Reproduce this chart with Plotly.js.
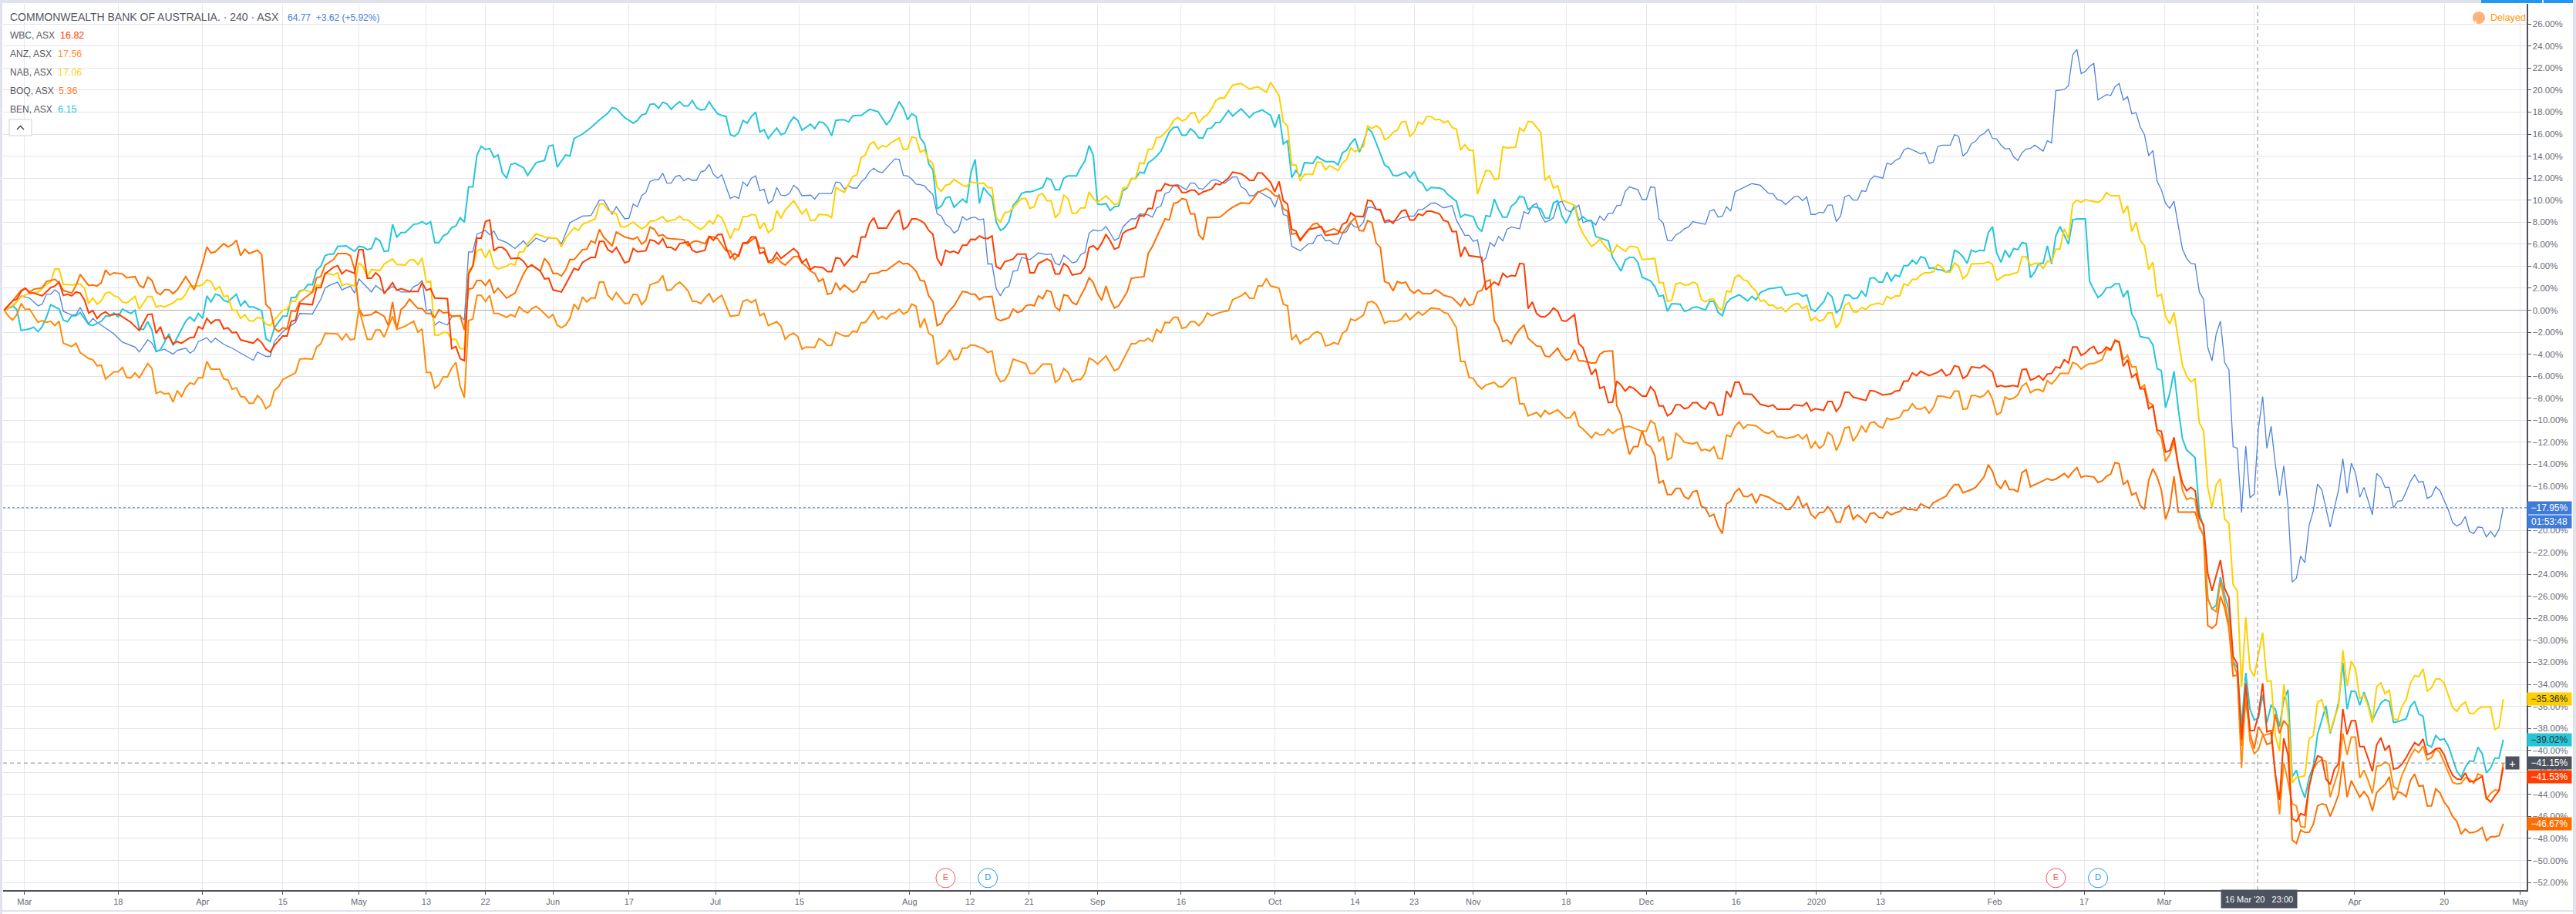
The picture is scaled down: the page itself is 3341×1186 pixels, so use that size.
<!DOCTYPE html>
<html><head><meta charset="utf-8">
<script src="https://cdn.plot.ly/plotly-3.0.1.min.js"></script>
<style>html,body{margin:0;padding:0;background:#fff;overflow:hidden}#c{width:3341px;height:1186px}</style>
</head><body><div id="c"></div>
<script>
// Each series: flat pairs of bar index, % change
const cbaPoints=[1,0,3,.3,5,1.3,7,1.1,9,.4,10,.55,11,1.45,12,1.45,13,1.85,14,1.55,15,-.1,17,-.45,18,-.4,19,.25,21,-1.25,22,-.75,23,-1.1,25,-1.65,27,-2.15,29,-2.9,32,-3.35,33,-3.8,35,-2.7,36,-3,37,-3.75,39,-3.55,41,-4,42,-3.65,44,-3.45,45,-3.9,46,-3.65,47,-2.85,49,-2.5,50,-2.95,51,-2.55,53,-3.1,55,-3.45,57,-3.9,60,-4.55,61,-3.8,63,-4.2,64,-4.2,65,-2.85,67,-1.95,70,-1.1,71,-.3,74,-.35,76,1,77,2,78,2.25,80,2.55,81,1.85,83,2.2,84,1.55,85,2.85,88,1.65,89,2.25,91,1.65,93,2.15,95,1.65,97,1.65,98,2.15,99,2.3,100,2.7,101,-.05,102,.05,103,-1.35,104,-1.05,106,-1.35,107,-.6,109,-.5,110,-.9,111,5.3,112,5.3,113,6.9,115,7.25,116,6.85,117,7.2,118,6.45,120,6.15,122,5.6,124,6.3,125,5.8,127,6.55,129,6.2,130,6.6,132,6.5,133,6,135,7.95,138,8.55,140,8.6,142,10,143,10,145,8.7,
146,9.4,148,8.3,149,8.35,150,9.65,151,9.4,152,10.4,153,10.7,154,11.7,155,11.85,156,11.85,157,12.45,158,11.55,159,11.55,160,12.15,161,12.25,162,11.75,163,12,164,11.8,165,11.8,166,12.55,167,12.7,168,13.25,169,12.35,170,12,171,12.3,172,11.2,173,10.15,174,10.35,175,10.15,176,11.65,177,11.3,178,12,179,12.2,180,10.85,181,11,182,9.7,183,9.95,184,11.15,185,10.45,186,10.4,187,10.6,188,11.35,189,11.05,190,10.4,192,10.45,193,10.1,194,10.6,197,10.6,198,11.65,199,11.6,200,11,201,11.3,202,11.1,203,11.1,204,11.65,205,12,206,12.6,207,12.9,208,12.6,209,12.5,210,12.95,211,13.35,212,13.75,213,13.7,214,12.25,215,12.2,216,11.9,217,11.45,218,11.4,219,11.3,220,10.85,221,10.5,222,8.75,223,8.55,224,7.8,225,7.55,226,7,227,7.3,228,8.5,229,8.2,230,8.4,231,8.45,232,8.2,233,8.3,234,4.2,235,4.2,236,1.95,237,1.3,238,2,239,2.15,240,3.55,241,3.6,242,4.8,243,4.7,244,4.6,246,5.2,248,5.05,249,5.1,250,4.25,251,4.1,252,5,253,4.7,254,4.3,255,4.4,256,5.05,257,5.25,258,7,259,7.3,260,7.2,261,7.25,262,7.6,263,7,264,6.35,265,6.55,266,7.55,267,7.95,268,8.3,269,8.3,270,8.75,272,8.65,273,8.45,274,9.3,275,9.45,276,10.6,277,10.75,278,11.35,279,11.4,281,10.95,282,11.55,283,11.55,284,11.05,285,11,287,11.8,288,11.85,290,11.5,292,12.1,
293,12.1,294,11.2,295,11,296,10.4,297,10.4,298,10.8,301,10.15,302,9.35,303,10.55,304,8.7,305,8.55,306,5.8,308,5.4,310,6.05,311,6.05,312,6.75,313,6.85,314,6.3,315,6.35,316,6.05,317,6,318,6.95,319,7.15,320,7.9,321,7.55,322,7.55,323,8,324,9.35,325,9.35,327,9,328,7.95,330,8.1,331,8.15,332,8.4,334,8.55,335,8.55,336,9.15,337,9.15,339,9.7,340,9.75,341,9.5,342,9.3,344,9.5,345,8.2,347,6.8,348,6.8,349,6.25,350,6.4,351,4.35,352,4.75,353,6.15,354,5.8,355,6.7,356,6.3,357,7.35,358,7.55,360,7.4,361,8.95,362,8.75,363,9.5,364,9.7,365,8.7,366,8,367,8.15,368,8.4,369,9.75,370,9.9,371,9.1,372,8.95,374,9.55,375,7.95,376,8.1,377,8.1,378,7.75,379,8.55,380,8.15,381,8.8,382,8.8,383,9.5,384,9.55,385,10.8,386,11.2,388,10.95,389,10.05,390,10.05,391,11.2,392,11.15,393,8.3,394,7.9,395,6.35,396,6.3,397,6.85,398,7.05,399,7.4,400,7.55,401,8.05,402,7.95,404,7.8,405,9,406,9.15,407,8.45,408,8.55,409,9.4,410,9,411,10.75,413,11.1,415,11.5,417,11.35,419,10.6,420,10.6,421,10.05,422,9.95,423,9.6,425,10.3,426,10.35,427,9.95,428,10.3,429,8.7,430,8.7,431,8.9,432,8.85,433,9.55,434,9.55,435,8.05,436,8.55,437,10.3,438,10.45,
439,10,440,10,441,10.85,442,10.8,443,11.85,444,12.2,446,12,447,13.35,448,13.25,449,13.6,450,13.8,451,14.55,452,14.75,453,14.6,454,14.4,455,14.2,456,14.35,457,13.35,458,13.45,459,14.85,460,15,462,15,463,15.95,464,15.8,465,14,466,14.35,467,15.15,468,15.35,469,15.85,470,16.05,471,16.45,472,15.6,473,15.55,474,15,475,14.65,476,14.7,477,13.95,478,13.6,479,14.3,480,14.65,481,14.7,482,15,483,14.75,484,14.45,485,15.4,486,15.2,487,19.95,489,20.05,490,20.4,491,23.2,492,23.7,493,21.5,494,21.7,495,22.15,496,22.45,497,19.1,499,19.6,500,19.5,501,20.3,502,20.6,503,19.1,504,19.4,505,17.85,506,17.95,507,16.65,508,15.95,509,14.05,510,14.5,511,11.7,512,10.95,513,9.7,514,9.25,515,9.9,516,7.65,517,5.55,518,4.7,519,4.25,520,4.2,521,1.65,522,1,523,-3.4,524,-4.6,525,-2.15,526,-1,527,-4.75,528,-5.4,529,-12.4,530,-12.55,531,-18.4,532,-12.35,533,-17.05,534,-16.7,535,-10.75,536,-7.85,537,-12.55,538,-10.55,539,-14,540,-16.85,541,-14.15,542,-17.8,543,-24.7,544,-24.35,545,-22.35,546,-22.95,547,-19.55,548,-18.25,549,-15.8,550,-16.3,551,-18.1,552,-19.7,553,-17.95,554,-16.3,555,-13.5,556,-16.65,557,-13.9,558,-14.8,559,-17,560,-16.1,561,-17.3,562,-18.6,563,-14.85,564,-15.2,565,-16.1,566,-16.1,567,-17.95,568,-17.35,569,-17.3,570,-16.5,571,-15.55,572,-14.95,573,-15.65,574,-15.55,575,-17.1,576,-16.9,577,-16.05,578,-16.4,579,-17.3,580,-18.15,581,-19.3,582,-19.6,583,-19.4,584,-18.75,585,-20.1,586,-20.3,587,-19.7,588,-19.75,589,-20.6,590,-20.1,591,-20.6,592,-19.9,593,-17.95];
const wbcPoints=[1,0,2,.4,3,.85,4,1,5,1.7,6,2,7,1.55,8,1.55,10,1.3,12,2.05,13,2.2,14,2.55,15,1.35,16,1.45,17,1.3,18,1.65,19,1.55,20,.95,21,-.25,22,-.05,23,-.75,24,-.35,25,-.15,26,-.45,28,-.35,30,-.85,31,-1.1,33,-1.85,35,-.4,36,-.35,37,-2.1,38,-1.5,39,-2.6,40,-2.4,41,-3.05,42,-2.85,43,-3,45,-2.5,46,-2.45,47,-1.5,48,-1.7,49,-.75,50,-1.2,51,-.9,52,-.9,53,-1.7,54,-1.6,55,-2.05,56,-2,57,-2.7,60,-3,61,-2.6,62,-2.95,63,-3.55,64,-3.8,65,-3.2,67,-2.35,68,-2.35,69,-1,70,-.9,71,.6,74,.5,75,2.05,76,2.05,77,3.3,79,3.9,80,4.05,81,3.3,82,3.65,84,3.35,85,5.5,86,5.5,87,2.9,88,2.9,89,3.4,90,3.05,91,1.5,93,2.5,94,1.8,95,1.95,97,1.7,99,1.7,100,2.5,101,1.8,102,1.95,103,1.1,106,1.05,107,-3.5,108,-3.3,109,-4.4,110,-4.6,111,3.3,112,4,113,6.55,114,6.55,115,8.05,116,8.2,117,5.4,118,5.7,119,5.7,120,5.4,121,4.7,123,4.75,124,4.45,125,3.9,126,4.1,128,3.55,129,2.85,130,2.9,131,1.85,133,1.65,134,2.35,136,3.8,137,3.65,138,4.35,140,4.8,141,4.8,142,6.25,143,6.25,144,5.5,145,5.25,146,5.7,
148,4.3,149,4.45,150,5.6,151,5.3,153,5.4,154,6.4,155,6.3,156,6,157,6.5,158,5.7,159,5.7,160,5.45,161,6.05,163,6.2,164,5.45,165,5.25,167,5.45,168,6.7,169,6.35,170,6.85,171,6.9,172,5.7,173,4.75,174,5.15,175,4.9,176,6.1,177,6.15,178,6.65,179,6.65,180,5.15,181,5.3,182,4.4,183,4.6,184,5.25,185,4.7,188,5.6,189,5.25,190,4.3,191,4.65,192,3.7,193,3.95,195,3.85,196,3.5,197,3.5,198,4.75,199,4.7,200,4.05,202,4.95,203,4.8,204,6.65,205,6.65,206,7.9,207,8.4,208,7.45,210,7.45,212,8.75,213,9.1,214,7.35,215,7.6,216,8.3,217,8.3,218,8.15,219,7.9,220,7.25,221,6.9,222,4.7,223,4.05,224,5.45,225,5.25,226,5.35,227,5.15,228,5.9,229,5.9,230,6.45,231,6.4,232,6.75,233,6.55,234,6.5,235,6.75,236,3.95,237,3.75,238,4.4,240,4.65,241,5.1,243,5.1,244,3.4,245,3.4,246,4.25,248,4.65,249,4.45,250,3.3,251,3.3,252,4.25,253,3.95,254,3.2,256,3.35,257,3.9,258,5.7,259,5.85,260,5.5,261,6.1,262,6.9,263,6.3,264,5.55,265,5.7,266,7,267,7.25,269,7.5,270,8.6,271,8.55,272,9.25,273,9.25,274,10.85,275,10.85,276,11.5,277,11.35,279,11.3,280,10.7,281,10.7,282,10.9,283,10.9,284,10.5,285,10.75,287,11,288,11.5,289,11.4,291,12,292,12.55,
294,12.4,295,12.15,296,11.8,297,11.8,298,12.5,299,12.45,301,11.6,302,10.75,303,11.7,304,9.95,305,9.65,306,7.35,307,7.2,308,6.4,310,7.35,311,7.4,313,7.6,314,6.8,317,6.95,318,7.8,319,8,320,8.85,321,8.55,323,8.5,324,10,325,9.9,326,9.15,327,9.15,328,8.05,329,8.2,330,7.9,332,9,333,9.1,334,8.2,335,8.2,336,8.75,337,8.6,338,9,339,9,341,8.75,342,8.15,343,8.05,344,7.15,345,7.15,346,4.85,347,5.75,348,4.95,351,4.8,352,1.85,354,2.55,355,2.3,356,3.35,357,3,358,3.15,359,3.1,360,4.25,361,4.2,362,.15,363,.75,364,-.3,365,-.6,366,-.6,367,-.3,368,.2,369,-.1,370,-.95,371,-1,373,-.4,374,-3.05,375,-3.4,377,-5.85,378,-5.35,379,-7.1,380,-6.95,381,-8.4,382,-8.35,383,-6.45,384,-6.8,385,-7.35,386,-6.95,387,-7.1,389,-7.8,390,-7.8,391,-6.95,392,-7.4,393,-8.7,394,-8.7,395,-9.6,396,-9.35,397,-8.6,398,-8.6,399,-8.95,400,-8.85,401,-8.4,402,-8.4,403,-8.8,404,-9,405,-8.35,406,-8.5,407,-9.55,408,-9.5,409,-7.35,410,-7.9,411,-6.55,412,-6.55,413,-7.6,415,-7.65,417,-8.55,419,-8.75,420,-8.6,421,-9,424,-9,425,-8.6,427,-8.7,428,-8.4,429,-9.15,430,-8.95,432,-9.1,433,-8.3,434,-8.3,435,-9.2,436,-8.7,437,-7.45,438,-7.45,
439,-7.9,440,-8,442,-8.2,443,-7.3,444,-7.35,446,-7.7,448,-7.6,449,-7.35,450,-7.3,451,-6.45,452,-6.45,453,-5.7,454,-5.95,455,-5.55,457,-5.95,459,-5.65,460,-5.4,461,-5.95,462,-5.8,463,-5.05,464,-5.15,465,-6.2,466,-5.95,467,-5.15,469,-5.25,470,-5,472,-5.6,473,-6.95,474,-6.85,475,-6.95,477,-6.85,478,-6.95,479,-5.4,480,-5.35,481,-6.35,482,-6.2,483,-5.95,484,-6.35,485,-5.8,486,-5.75,487,-5.15,488,-5.25,489,-4.5,490,-4.8,491,-3.35,492,-3.35,493,-4.1,494,-3.9,495,-3.5,496,-3.3,497,-3.95,498,-3.8,499,-3.35,500,-3.6,501,-2.8,502,-2.9,503,-5.1,504,-4.5,505,-6.1,506,-5.8,507,-7.15,508,-7.15,509,-8.95,510,-8.7,511,-10.9,512,-11,513,-12.9,514,-12.75,515,-11.55,516,-14.1,517,-15.7,518,-16.4,519,-16.1,520,-16.4,521,-18.9,522,-19.5,523,-23.9,524,-25.5,525,-24,526,-22.7,527,-25.3,528,-26.1,529,-31.45,530,-32.15,531,-39,532,-33.9,533,-38.2,534,-38.2,535,-36.8,536,-33.9,537,-38.3,538,-38.2,539,-42.15,540,-44.5,541,-38.9,542,-40.4,543,-46.2,544,-46.45,545,-45.75,546,-45.9,547,-43.3,548,-41.6,549,-40.5,550,-40.65,551,-42.6,552,-43.1,553,-41.7,554,-41.2,555,-36.25,556,-38.55,557,-37.3,558,-37.3,559,-39.65,560,-39.65,561,-40.75,562,-41.9,563,-39.5,564,-38.85,565,-40,566,-39.55,567,-41.7,568,-41.6,569,-41.25,570,-40.65,571,-39.95,572,-39.3,573,-39.55,574,-38.95,575,-40.4,576,-40.2,577,-39.85,578,-39.8,579,-40.4,580,-41.45,581,-42.25,582,-42.6,583,-42.65,584,-42.05,585,-42.85,586,-42.8,587,-42.6,588,-42.35,589,-44.35,590,-44.7,591,-44.15,592,-43.65,593,-41.53];
const anzPoints=[1,0,2,-.55,3,-.9,4,-.4,5,.6,6,.05,7,.1,9,-1.1,10,-.95,11,-1.1,12,-1,13,-1.4,14,-1,15,-3,16,-3.15,17,-3.3,18,-3,19,-3.85,21,-4.4,22,-4.5,23,-5.05,24,-5,25,-6.25,26,-5.9,27,-5.6,28,-5.6,29,-5.2,30,-6.1,31,-6.15,32,-5.7,33,-6.15,35,-4.85,36,-5.3,37,-7.55,38,-7.4,39,-7.6,40,-7.55,41,-8.35,42,-7.3,43,-7.85,44,-7.05,45,-6.6,46,-6.75,47,-6.15,48,-6.15,49,-4.65,50,-5.35,52,-5.35,53,-6.25,54,-6.35,55,-7.2,56,-7.05,57,-7.85,58,-7.9,59,-8.45,60,-8.45,61,-7.75,62,-8.15,63,-8.95,64,-8.65,65,-7.3,66,-6.95,67,-6.3,70,-5.7,71,-4.45,72,-4.4,74,-4.45,75,-3.35,76,-3.05,77,-2.1,80,-2.15,81,-2.7,82,-2.15,83,-2.7,84,-2.6,85,.15,87,-2.65,88,-2.65,89,-1.8,90,-1.8,91,-2.45,93,-.55,94,-1.75,96,-1.45,98,-1,99,-2,100,-1.7,101,-5.65,102,-5.65,103,-7.1,104,-6.8,105,-6.05,106,-6.05,107,-5.25,108,-4.75,109,-6.9,110,-7.95,111,-.95,112,-.8,113,1.35,114,1.35,115,.8,116,1.35,117,-.3,118,-.3,120,-.65,121,-.4,122,-.6,123,.3,124,-.05,125,-.25,126,.15,127,.35,128,.05,130,-.7,131,-.4,132,-1.35,133,-1.6,134,-1.35,135,-.75,136,.55,137,.05,138,1.2,139,.75,140,1.1,141,1.1,142,2.55,143,2.55,144,1.35,145,.95,146,1.6,
148,.6,149,.65,150,1.45,151,1.4,152,.5,153,.95,154,2.3,155,2.45,156,2.6,157,3.15,158,1.8,159,1.85,160,2.3,161,2.55,162,2.2,163,1.75,164,.8,165,.8,166,.6,167,1.1,168,1.5,169,.75,170,1.1,171,1.35,172,.4,173,-.55,175,-.45,176,.8,177,.95,178,.7,179,.95,180,-.5,181,-.3,182,-1.4,184,-1.05,185,-1.45,186,-2.65,187,-2.25,188,-2.1,189,-2.4,190,-3.55,191,-3.35,193,-3.4,194,-2.6,195,-2.8,196,-3.2,197,-3.2,198,-2,200,-2.35,201,-2.35,202,-1.9,203,-2,204,-1.15,205,-1.1,207,-.05,208,-.8,209,-.55,210,-.8,211,-.35,212,-.25,213,.1,214,-.35,215,-.15,216,.55,217,.35,218,-1.6,219,-.75,220,-2.1,221,-2.35,222,-4.95,224,-4.25,225,-3.6,226,-4.5,227,-4.4,228,-3.45,229,-3.45,230,-3.15,231,-3.2,233,-3.5,234,-3.85,235,-3.7,236,-5.8,237,-6.5,238,-6.35,239,-5.7,240,-4.45,243,-4.85,244,-5.75,245,-5.75,247,-4.9,249,-4.9,250,-6.55,251,-6.25,252,-5.3,253,-5.65,254,-6.5,255,-6.3,256,-6.3,257,-5.75,258,-4.35,259,-4.55,260,-4.9,262,-4.15,263,-4.85,264,-5.5,265,-5.3,267,-3.8,268,-3.05,269,-3.05,270,-2.75,271,-2.8,272,-2.55,273,-2.85,274,-1.75,275,-2.05,276,-1.1,277,-1.15,278,-.65,279,-.65,280,-1.65,281,-1.55,282,-1.05,283,-1.05,284,-1.4,285,-1,286,-.25,287,-.5,289,-.2,291,-.05,292,.95,
294,1.3,295,1.6,296,1.1,297,1.05,298,2.2,299,2.2,300,2.85,301,2.2,303,2,304,.55,305,.4,306,-2.7,307,-2.25,308,-3.05,309,-2.7,310,-2.6,311,-2.15,312,-1.95,313,-2.15,314,-3.25,315,-3.15,316,-2.95,317,-3.1,318,-2.1,319,-1.85,320,-.8,321,-.95,323,-.45,324,.7,325,.8,326,.55,327,-.15,328,-1.2,329,-1,331,-1,332,-.8,333,-.3,334,-.85,336,-.15,337,-.45,339,.2,341,.1,342,-.2,343,-.3,344,-.95,345,-1.6,346,-4.65,347,-4.65,348,-6.1,349,-6.2,350,-6.8,351,-7.15,352,-6.8,354,-6.55,355,-6.95,356,-6.95,358,-6.15,359,-6.15,360,-8.5,361,-8.5,362,-9.6,364,-9.3,365,-9.7,366,-9.1,367,-9.45,369,-9.05,371,-9.8,372,-9.75,373,-9.2,374,-10.5,375,-10.8,377,-11.6,378,-11.1,379,-11.35,380,-11.3,381,-10.8,382,-11.2,383,-10.9,385,-10.6,386,-10.55,389,-11,390,-11,391,-10.05,392,-10.3,393,-11.95,394,-11.5,395,-13.6,396,-13.4,397,-11.2,398,-11.5,399,-12,401,-12.15,402,-12,403,-12.75,404,-12.65,405,-12.8,406,-12.4,407,-13.45,408,-13.5,409,-11.35,410,-11.5,411,-10.55,412,-10.15,413,-10.75,414,-10.4,416,-10.5,418,-11.1,419,-11.2,420,-10.95,421,-11.5,422,-11.5,423,-11.65,425,-11.5,426,-11.3,427,-11.7,428,-11.3,429,-12.55,430,-11.95,431,-12.55,432,-12.25,433,-11.1,434,-11.4,435,-12.75,436,-11.95,437,-10.7,438,-10.6,
439,-11.9,440,-11.35,441,-10.5,442,-11.1,443,-10.25,444,-10.15,445,-10.55,446,-10.7,447,-9.8,448,-9.95,450,-9.75,451,-9.1,452,-9.1,453,-8.5,454,-8.95,455,-9,456,-8.8,457,-9.35,458,-8.85,459,-7.8,460,-7.8,462,-8,463,-7.35,464,-7.35,465,-9,466,-8.95,467,-7.75,468,-7.75,469,-7.9,470,-7.75,471,-7.3,472,-8.1,473,-9.5,474,-9.3,475,-7.9,476,-8.1,477,-8,478,-7.7,479,-6.9,480,-6.6,481,-7.5,482,-7.25,483,-7.2,484,-7.4,485,-6.4,486,-6.7,487,-6.3,488,-5.75,490,-5.75,491,-4.75,492,-4.9,493,-5.35,494,-5.05,495,-4.85,496,-4.85,498,-4.5,499,-3.55,500,-3.65,501,-2.7,502,-2.85,503,-4.5,504,-4.1,505,-5.15,506,-5.15,507,-7.1,508,-6.8,509,-8.4,510,-8.6,511,-11.05,512,-11.6,513,-13.75,514,-13.1,515,-11.95,516,-14.25,517,-16.35,518,-17.2,519,-17.05,520,-17.2,521,-19.8,522,-20.4,523,-26.2,524,-27.15,525,-27.4,526,-24.6,527,-26.55,528,-28.4,529,-32.05,530,-33.1,531,-41.6,532,-34.5,533,-39.15,534,-40.3,535,-39.95,536,-38.65,537,-38.55,538,-38.45,539,-42.2,540,-45.8,541,-41.1,542,-42.85,543,-44.85,544,-45.05,545,-46.9,546,-47,547,-43.3,548,-41.7,549,-41.1,550,-40.85,551,-41,552,-44.25,553,-43,554,-41.8,555,-38.45,556,-40.4,557,-38.8,558,-38.8,559,-42.5,560,-41.8,561,-42.75,562,-43.9,563,-41.45,564,-41.35,565,-41.05,566,-41.25,567,-43.3,568,-43.55,569,-42.25,570,-41.45,571,-40.55,572,-39.9,573,-40.2,574,-39.6,575,-40.85,576,-40.65,577,-39.85,578,-40.2,579,-41.1,580,-41.9,581,-42.9,582,-43.05,583,-43,584,-42.5,585,-42.6,586,-43,587,-42.15,588,-42.3,589,-44.45,590,-43.9,591,-43.6,592,-43.65,593,-41.15];
const nabPoints=[1,0,3,.4,5,1.2,7,1.55,9,1.65,11,2.35,12,2.55,13,3.75,14,3.75,15,2.35,17,2.3,19,2.4,20,2,21,.6,22,1.1,23,.55,24,.85,25,1.55,26,1.65,27,1.3,28,1.2,29,.75,30,.65,32,1.25,33,.1,35,1.25,36,1.25,37,.3,38,.4,39,.3,41,.65,42,1,43,1,44,1.45,45,2.2,47,2.2,48,2.3,49,2.75,50,2.6,51,1.85,52,2.15,53,1.25,54,1.3,55,0,56,0,57,-.75,58,-.4,59,-.95,60,-1,61,-.65,62,-.75,63,-1.25,64,-1.4,65,-.9,67,0,68,.05,69,.8,70,.8,71,1.65,72,1.85,74,1.6,75,2.25,76,2.25,77,3.4,79,3.2,80,3.4,81,2.25,82,2.4,84,2.2,85,4.3,86,3.95,87,3,88,3.7,90,3.6,91,4.2,93,4.65,94,4.15,96,4.1,97,4.55,98,4.6,99,4.15,100,4.75,101,2.55,102,2.65,103,-2.25,104,-2.25,105,-2,106,-2.05,107,-2.65,108,-2.65,109,-3.5,110,-3.5,111,3.65,112,4,113,5.4,114,5.55,115,4.75,116,5.5,117,4,118,3.75,120,4,121,4.25,122,4.1,123,5.3,124,5.3,125,6.05,127,6.95,129,6.65,131,6.55,132,6.5,133,5.75,134,6.55,136,7.5,137,7.25,138,7.8,140,8.1,141,8.3,142,9.65,143,9.65,144,9.1,146,8.75,
147,7.6,148,7.55,150,8,152,7.4,153,7.6,154,8.1,155,8.1,157,8.5,158,8.05,160,8.25,161,8.55,162,8.2,163,8.2,165,7.55,166,7.35,167,7.65,168,8.15,169,7.85,170,8.65,171,8.4,172,7.5,173,6.5,174,7.4,175,7.3,176,8.5,177,8.5,178,8.7,179,8.65,180,7.4,181,7.95,182,7.05,183,7.35,184,9.05,185,8.35,186,9.1,188,9.95,190,8.75,191,9.2,192,8.15,193,8.15,194,8.7,196,8.65,197,8.4,198,11.15,200,10.7,202,12.15,203,12.3,204,13.85,205,14.1,206,15.05,207,15.3,208,14.65,209,14.95,210,14.85,211,15.2,213,15.65,214,14.6,215,14.65,216,15.75,217,15.65,218,14.35,219,14.55,220,13.65,221,13.3,222,11.15,223,10.8,224,11.35,225,11.45,226,11.9,228,11.35,229,11.25,230,11.65,232,11.5,233,11.55,234,11.15,235,11.1,236,8.4,237,8,238,8.85,239,8.95,240,9.3,242,10.15,243,10.15,244,9.25,245,9.4,246,10.45,247,10.6,248,9.95,249,9.95,250,8.4,251,8.85,252,10.45,253,10.15,254,8.8,255,8.8,256,9.3,257,9.3,258,10.75,259,10.15,260,9.8,262,10.4,263,10,264,9.6,265,9.7,266,11.1,267,11.15,268,11.95,269,11.95,270,13.4,271,13.3,272,14.6,273,14.65,274,15.7,275,15.75,276,16.15,277,16.55,278,17.25,279,17.5,280,17.2,281,17.35,282,17.9,283,17.95,284,17,285,17.5,286,17.75,287,18.3,288,19.05,289,19.3,290,19.25,292,20.45,
294,20.6,296,20.1,298,20.3,300,19.8,301,20.7,303,19.5,304,17.1,305,16.75,306,13.2,307,13.2,308,11.75,309,12.35,311,12.35,312,13.45,313,13.45,314,12.75,315,13.15,317,12.7,318,13.35,319,13.7,320,14.75,321,14.4,323,14.85,324,16.75,325,16.5,326,16.75,327,16.5,328,15.5,329,15.7,330,16.15,331,16.35,332,17.1,333,17.15,334,15.8,335,16.15,336,17.1,337,16.9,338,17.6,339,17.6,340,17.3,341,17.35,342,17.05,343,17.2,344,16.6,345,16.45,346,14.55,347,15.05,348,14.55,349,14.5,350,10.55,352,12.7,353,12.65,354,11.9,355,11.95,356,14.85,357,14.75,359,14.8,360,16.55,361,16.25,362,17.15,363,17.1,365,16.15,366,11.8,367,12.2,368,11.1,369,11.3,370,10,373,9.55,374,7.8,375,6.95,377,5.8,378,6.05,379,6.45,381,5.45,382,5.2,383,5.9,385,5.35,386,5.8,387,5.8,388,5.65,389,4.6,392,4.7,393,2.5,394,2.5,395,.8,396,.9,397,2.4,398,2.5,399,2.3,400,2.3,401,2.55,402,2.4,403,1,404,.75,405,1,406,1,407,.25,408,0,409,1.75,410,1.65,411,3,412,3.2,413,2.75,414,2.65,415,2.1,416,1.75,417,.8,418,.9,419,.45,420,.45,421,.15,422,.25,423,-.15,424,.25,425,.55,426,.6,427,.15,428,.4,429,-.95,430,-.65,431,-1,432,-.85,433,-.25,434,-.25,435,-1.6,436,-1.05,437,.45,438,.65,
439,-.15,440,-.15,441,.25,442,.05,443,.45,444,.55,445,.65,446,.5,447,1.25,448,1.05,449,1.3,450,1.3,451,2.4,452,2.25,453,2.8,454,2.8,455,3.2,456,3.4,457,3.4,458,3.5,459,4.15,460,3.9,461,3.45,462,3.45,463,4.3,464,4,465,2.85,466,3.2,467,4.2,470,4.25,471,4.4,472,4.15,473,2.7,475,3.2,476,3.2,478,3.45,479,4.85,480,4.85,481,4.05,482,4.25,483,4.25,484,3.8,485,4.45,486,4.4,487,5.55,488,5.55,489,7.4,490,6.5,491,9.65,492,10,493,9.8,494,10.05,495,9.95,497,9.8,498,10.05,499,10.7,500,10.4,502,10.4,503,8.8,504,9.5,505,7.15,506,8,507,6.35,508,5.85,509,3.7,510,4.35,511,1.25,512,1.45,513,-.55,514,-1.25,515,-.2,516,-2.6,517,-5,518,-6,519,-6.5,520,-6.25,521,-10.25,522,-10.95,523,-16.1,524,-17.95,525,-15.85,526,-15.3,527,-19,528,-19.35,529,-24.95,530,-25.5,531,-34.25,532,-27.9,533,-32.6,534,-33.3,535,-31.2,536,-29.3,537,-33.7,538,-33.7,539,-38.65,540,-40.05,541,-34,542,-36.6,543,-42.95,544,-42.45,545,-42.4,546,-42.3,547,-38.95,548,-38.65,549,-35.6,550,-35.4,551,-36.8,552,-38.3,553,-37.05,554,-36,555,-30.9,556,-34.15,557,-31.9,558,-32.6,559,-35.3,560,-34.95,561,-36,562,-37.5,563,-34.2,564,-33.85,565,-34.85,566,-34.5,567,-37.1,568,-37.25,569,-36,570,-35.4,571,-33.9,572,-33.2,573,-33.3,574,-32.6,575,-34.6,576,-34.3,577,-33.5,578,-33.5,579,-33.9,580,-34.95,581,-36.1,582,-36.45,583,-35.9,584,-35.6,585,-36.65,586,-36.65,587,-36.25,588,-36.05,589,-36.05,590,-36.05,591,-38.1,592,-37.9,593,-35.36];
const boqPoints=[1,0,2,.4,3,.85,5,1.8,6,2,7,1.65,8,1.9,10,2.05,11,2.6,13,2.8,14,2.5,15,1.8,17,1.55,18,2.25,19,3.25,21,2.25,22,2.3,23,2.2,24,2.5,25,3.65,26,3.2,27,3.4,29,3.3,30,2.95,32,3.05,33,2.25,34,2.05,35,3,36,2.7,37,1.65,38,1.4,39,1.85,40,1.85,41,1.5,42,1.85,44,3.05,46,1.85,48,4.25,49,5.75,50,5.2,51,5.3,53,6.05,54,5.75,55,5.95,56,6.35,57,4.95,58,5.55,59,5.15,61,5.45,62,5.05,63,.5,64,.15,65,-1.65,66,-1.95,67,-1.6,68,-1.7,69,-.05,70,-.1,71,.75,74,1.65,75,2.95,76,3.05,77,4.1,79,4.6,80,5.15,82,5.15,83,4.95,84,3.7,85,.15,86,-.5,88,-.4,89,-.1,91,-.55,92,-1.4,93,.75,94,-1.7,95,.05,96,.4,97,1,99,.15,100,.15,101,-.3,102,-.3,103,-.65,104,.05,105,-.25,106,-.2,107,-.55,109,-.5,110,-1.8,111,1.9,112,2,113,2.7,114,2.7,115,2.25,116,2.8,117,1.55,118,2,120,1.1,122,1.55,124,3.3,125,3.9,126,4.1,128,3.55,129,4.7,130,4.25,131,3.35,132,3.35,133,3.1,134,3.65,135,4.6,136,4.6,138,5.5,139,5.55,140,6.3,141,6.1,142,7.35,143,6.65,145,5.85,146,7.1,
148,6.65,149,6.55,150,6.45,151,6.65,152,6,153,6.3,154,7.55,155,7.35,156,6.75,157,6.85,158,6.55,159,6.5,160,6.45,162,6.4,163,5.85,164,6.2,165,6.3,166,6.15,167,6.05,168,6.7,169,6.65,170,6.5,172,5.4,173,5.4,174,4.6,175,5.05,176,6.1,177,6.05,179,6.65,180,5.65,181,5.65,182,4.35,183,4.3,184,4.8,185,4.35,186,4.1,188,4.85,189,4.9,190,4.3,191,4,192,3.55,193,3.35,194,2.6,195,2.85,196,1.45,197,1.55,198,2.5,199,1.85,200,2.3,202,1.65,203,1.85,204,2.55,205,2.55,206,3.3,208,3.4,209,3.6,210,3.6,211,3.9,213,4.45,214,4.2,215,4.25,216,3.95,217,3.55,218,2.7,219,2.65,220,1.3,221,.8,222,-1.4,223,-1.2,224,-.45,225,0,226,.4,228,1.7,229,1.65,230,1.45,231,1.45,232,.95,233,1.2,235,1.25,236,-.75,237,-.95,238,-.85,239,-.7,240,.1,241,-.2,242,-.1,243,.4,244,.5,245,.4,246,1.3,247,1.05,248,1.8,249,1.65,250,.3,251,-.05,252,1.4,253,1.3,254,.7,255,.5,256,1.3,257,2,258,2.95,259,2.5,260,1.5,261,.9,262,2.2,263,1,264,.2,265,.4,267,1.65,268,2.9,269,2.95,271,3.05,272,5.15,273,5.8,276,8.3,277,8.2,278,9.7,279,9.8,280,10.15,281,10.05,282,8.75,283,8.75,284,6.85,285,6.4,286,8.4,289,8.45,290,8.75,291,9.1,292,9.35,
294,9.75,296,9.7,298,10.7,300,11.05,301,10.8,302,10.4,303,10.35,304,9.2,305,9,306,6.9,307,7,308,6.3,310,7.35,311,7.8,312,7.9,314,7.1,316,7.4,318,7,320,8,321,8.4,322,7.25,323,7.2,324,8.15,325,7.95,326,6.1,327,5.7,328,2.6,329,2.45,330,1.75,331,2.6,332,2.45,333,2.55,334,1.85,335,1.55,336,1.85,337,1.5,339,1.5,340,1.85,341,1.65,342,1.35,344,1.15,345,.8,346,.4,347,1.05,348,.45,349,.55,350,1.65,351,1.8,352,2.6,353,2.75,354,-.95,355,-1.6,356,-2.85,357,-2.7,358,-3.05,359,-2.25,360,-1.75,361,-1.35,362,-2.55,364,-3.25,365,-3.3,366,-4.15,367,-4.25,369,-3.45,370,-4.15,371,-4.55,372,-4.4,373,-3.6,374,-4.6,375,-4.6,377,-4.8,378,-4.8,379,-4,380,-3.75,382,-3.7,383,-8.7,384,-9.5,385,-11.5,386,-13.1,387,-12.4,388,-12.4,389,-10.95,390,-12.15,391,-12.4,392,-13.2,393,-15.7,394,-15.5,395,-16.75,396,-16.75,397,-16.2,398,-16.2,399,-16.95,400,-17.15,401,-16.5,402,-16.4,403,-17.8,404,-18,405,-18.75,406,-18.55,407,-19.65,408,-20.3,409,-17.6,410,-17.35,411,-16.55,412,-16.2,413,-16.9,414,-16.95,415,-16.7,416,-17.55,417,-16.75,419,-17,421,-17.5,422,-17.6,423,-18.1,424,-18.1,425,-17.6,426,-16.9,427,-17.9,428,-17.55,429,-18.55,430,-18.9,431,-18.4,432,-18.35,433,-17.85,434,-18.35,435,-19.25,436,-19.25,437,-18.1,438,-17.75,
439,-19,440,-18.6,441,-18.9,442,-19.3,443,-18.5,444,-18.4,445,-18.8,446,-18.9,447,-18.3,448,-18.6,449,-18.4,450,-18.3,451,-17.9,452,-18.1,453,-18.1,454,-18.2,455,-17.6,456,-17.8,457,-18,458,-17.5,459,-17.3,460,-17.1,461,-16.9,462,-16.3,463,-15.85,464,-15.85,465,-16.6,467,-16.3,468,-16.1,470,-15.15,471,-14.05,472,-14.65,473,-15.8,474,-16.2,475,-15.45,476,-16.3,477,-16.3,478,-16.5,479,-14.75,480,-14.5,481,-16.05,482,-15.85,483,-15.7,485,-15.3,486,-15.45,487,-15.35,489,-14.85,490,-15.2,491,-14.7,492,-14.3,493,-15.2,494,-15.05,496,-15.15,497,-15.65,498,-15.5,499,-15.1,500,-14.9,501,-13.85,502,-13.95,503,-15.85,504,-15.5,505,-16.8,506,-16.6,507,-17.75,508,-18.1,509,-15.45,510,-14.4,511,-15.15,512,-16.35,513,-19,514,-17.9,515,-15.1,516,-18.35,517,-18.35,518,-18.35,519,-18.35,520,-18.35,521,-19.6,522,-20.5,523,-28.65,524,-28.9,525,-28.55,526,-26,527,-27.05,528,-28.9,529,-33.25,530,-33.15,531,-39.6,532,-35.4,533,-38.45,534,-39.85,535,-37.85,536,-38.5,537,-39.45,538,-39.3,539,-36.7,540,-38.45,541,-37.3,542,-37.75,543,-48.15,544,-48.45,545,-47.25,546,-47.45,547,-47.45,548,-46.7,549,-45.05,550,-44.85,551,-44.95,552,-46,553,-45.05,554,-44,555,-41,556,-44.25,557,-42.75,558,-43.45,559,-44.25,560,-43.75,561,-44.25,562,-45.5,563,-43.85,564,-43.45,565,-43.1,566,-42.4,567,-44.5,568,-43.75,569,-43.9,570,-44.2,571,-42.75,572,-42.15,573,-43.25,574,-43.2,575,-45.05,576,-45.05,577,-43.5,578,-43.85,579,-44.7,580,-45.2,581,-46,582,-46.45,583,-47.6,584,-47.15,585,-47.5,586,-47.45,587,-47.3,588,-47,589,-48.2,590,-47.85,591,-47.85,592,-47.75,593,-46.67];
const benPoints=[1,0,3,.4,4,.05,5,-1.85,7,-1.7,8,-1.55,9,-1.95,10,-1.5,11,-.65,12,.5,14,.1,15,-.9,16,-1.05,17,-.5,18,-.5,19,-.2,21,-1.3,22,-1.4,24,-1,25,-.55,26,-.55,27,-.25,28,-.6,29,.1,31,-.3,32,0,33,-1.7,34,-1.75,35,-1.05,36,-1.8,37,-3.75,38,-3.6,40,-2.15,41,-3.2,44,-1,45,-.6,46,-1,47,-.3,48,-.75,49,1.3,50,.75,51,1.45,52,1.35,53,.9,54,.75,56,1.45,57,.4,58,.85,59,.3,60,.3,62,-.05,63,-2.6,64,-2.85,65,-1.6,67,-.55,68,-.55,69,1.15,70,1.15,71,1.75,72,1.85,73,2.35,74,2.3,75,3.65,76,4,77,4.95,78,5.1,79,5.1,80,5.8,82,5.85,84,5.35,85,5.8,86,5.75,87,5.5,88,5.6,89,6.55,90,6.3,91,5.35,92,5.4,93,7.8,94,6.65,95,7.05,96,7.05,98,7.8,99,7.85,100,8.05,101,7.8,102,8.05,103,6.15,104,6.15,105,6.75,106,6.95,107,7.5,108,7.65,109,8.4,110,8,111,11.2,112,11.2,113,14.1,114,14.9,115,14.6,116,14.7,117,13.9,118,14.1,119,12.5,120,12,121,13.25,122,13.35,124,12.95,125,12.25,127,13.4,129,13.6,130,14.9,131,15,132,13,134,14.1,135,14,136,15.6,138,16,140,16.6,142,17.3,144,17.9,145,18.4,146,18.3,
148,17.5,149,17.25,150,17,151,17.25,152,17.75,153,17.85,154,18.7,155,18.75,156,18.35,157,18.9,158,18.75,159,18.25,160,18.65,161,18.95,162,18.55,163,18.55,164,19.05,165,18.4,166,18.2,167,18.25,168,18.95,169,18.35,170,17.85,171,17.7,172,17.6,173,15.95,174,15.8,175,16.15,176,17.25,177,17,178,17.6,179,18,180,16.2,181,16.4,182,15.6,184,16.55,185,15.95,186,16.1,187,17,188,17.55,189,17.25,190,16.35,192,16.9,193,16.5,194,17.1,195,17.05,196,16.65,197,15.85,198,17.25,199,17.3,200,17.3,201,17.1,202,17.65,203,17.7,204,17.7,206,18.25,208,18.05,210,16.85,211,17.3,213,18.95,214,18.35,215,17.3,216,17.85,217,17.6,218,15.65,219,15.15,220,13.3,221,12.75,222,9.2,223,9.45,224,10.2,225,10.3,226,9.35,228,10.1,229,9.75,230,12.5,231,13.7,232,9.7,233,11.15,234,10.65,235,10.25,236,8,237,7.25,238,7.5,239,8.05,240,9.55,241,9.95,242,10.6,243,10.75,244,10.75,245,10.85,247,11.15,248,12,249,11.85,250,10.95,251,10.95,252,12,253,12.2,255,12.2,256,12.95,257,13.55,258,14.95,259,14.05,260,9.65,261,9.6,262,9.7,263,9.05,264,9.4,265,9.45,266,10.85,267,11.1,268,11.95,269,11.95,270,12.55,271,12.45,272,13.4,273,13.65,274,14,275,14.45,276,15.3,277,16.2,278,16.6,279,16.65,280,15.9,281,15.9,282,16.5,283,16.2,284,15.65,285,15.65,286,16.5,287,16.55,288,17.05,289,17.05,291,18.15,292,17.65,
294,18.3,296,17.5,297,17.9,299,18.2,301,17.7,302,16.6,303,17.8,304,15.1,305,15.4,306,12.05,307,12.7,308,12.15,309,13.4,311,13.35,312,13.95,314,13.5,316,13.5,317,13.2,318,14.3,319,14.55,320,15.15,321,15.6,322,14.35,323,15.2,324,16.55,325,16.15,326,15.2,328,13.2,329,12.95,330,12.25,331,12.2,333,12.55,334,12.05,335,12.6,336,11.75,337,11.5,338,10.85,339,11.15,341,11.1,342,10.95,343,10.5,344,10.2,345,9.9,346,8.45,347,8.7,349,8.5,350,7.55,351,7.15,352,8.6,353,8.5,354,10.1,355,9.15,356,8.45,357,8.45,358,9.45,359,9.75,360,10.35,361,10.25,362,9.15,363,9.4,364,9.35,365,9.2,366,8.4,367,8.35,368,9.75,369,9.95,370,8.55,371,7.9,373,9.55,374,8.15,375,8.5,376,8.15,377,8.15,378,6.7,381,6.3,382,4.8,383,4.15,384,3.55,385,4.55,386,4.8,387,4.8,388,4.35,389,3,391,2.65,392,2.15,393,1.25,394,1.35,395,-.1,396,.6,398,.55,399,-.1,400,0,401,.25,402,.3,404,0,405,.8,406,.8,407,-.2,408,-.5,409,.65,410,1.05,412,1.4,414,.85,415,1.25,416,.95,417,1.6,419,1.95,422,2.1,423,1.35,425,1.45,426,1.55,427,1.25,428,1.4,429,.1,430,-.1,432,.75,433,1.6,434,1.2,435,-.25,436,.15,437,1.35,438,1.4,
439,1.05,440,1.1,441,1.75,442,1.25,443,2.9,444,2.95,445,2.55,446,2.55,447,3.45,448,2.65,449,3.2,450,3.05,451,4.05,452,4.05,453,4.55,454,4.2,455,4.85,456,4.75,457,3.8,458,3.85,459,3.7,460,3.65,461,3.45,462,3.65,463,5.45,464,5.25,465,4.85,466,4.25,467,5.45,468,5.3,469,5.45,470,5.4,471,7.05,472,7.6,473,5.2,474,4.35,475,5.45,476,4.8,477,5.6,478,5.5,479,6.15,480,6.05,481,2.95,482,3.45,483,4.25,484,4.25,485,5.85,486,4.2,487,6.75,488,7.6,489,6.85,490,6,491,8.2,492,8.3,494,8.3,495,2.65,496,1.85,497,1.15,498,1.45,499,2.05,500,2.05,501,2.4,502,2.4,503,1.2,504,1.8,505,-.35,506,-1,507,-2.4,509,-2.55,510,-3.15,511,-5.3,512,-5.5,513,-8.85,514,-7.55,515,-5.55,516,-8.9,517,-11.7,518,-12.7,519,-13.05,520,-13.4,521,-18.4,522,-19.7,523,-26.2,524,-27.15,525,-26.8,526,-24.25,527,-25.85,528,-27.25,529,-31.9,530,-32.5,531,-37.85,532,-32.95,533,-36.25,534,-37.25,535,-37.05,536,-34.95,537,-37.5,538,-35.9,539,-36.25,540,-37.85,541,-35.4,542,-34.5,543,-42.4,544,-41.8,545,-43.3,546,-44.3,547,-42.5,548,-41.45,549,-38.55,550,-37.25,551,-35.95,552,-38.45,553,-37.15,554,-35.65,555,-32.05,556,-36.25,557,-34.6,558,-34.65,559,-35.9,560,-34.7,561,-35.75,562,-37.25,563,-36.45,564,-35.7,565,-35.4,566,-35.55,567,-37.45,568,-37.4,569,-37.25,570,-37.15,571,-36,572,-35.55,573,-36.7,574,-36.9,575,-39.5,576,-39.7,577,-38.65,578,-39.05,579,-38.95,580,-39.6,581,-40.75,582,-41.9,583,-42.45,584,-41.55,585,-40.95,586,-41,587,-39.7,588,-40.3,589,-42.05,590,-41.6,591,-40.7,592,-40.7,593,-39.02];

const xTickBars=[5.8,28,48,67,85,101,115,131,149,169.5,189.4,215.5,229.8,243.8,260,279.8,302,321,335,349,371,390,411.3,430.3,445.5,472.5,493.7,512.7,534,557.8,579,597];
const xTickLabels=['Mar','18','Apr','15','May','13','22','Jun','17','Jul','15','Aug','12','21','Sep','16','Oct','14','23','Nov','18','Dec','16','2020','13','Feb','17','Mar','','Apr','20','May'];
const yTicks=[26,24,22,20,18,16,14,12,10,8,6,4,2,0,-2,-4,-6,-8,-10,-12,-14,-16,-18,-20,-22,-24,-26,-28,-30,-32,-34,-36,-38,-40,-42,-44,-46,-48,-50,-52];
const eventBars=[224,234,487,497];
const eventLabels=['E','D','E','D'];
const eventLevel=-51.6;
const lastCBA=-17.95, crossY=-41.15, crossBar=534.8;
const legendRows=[['WBC, ASX','16.82','#ff3d00'],['ANZ, ASX','17.56','#ff9233'],['NAB, ASX','17.06','#ffd320'],['BOQ, ASX','5.36','#ff7a1a'],['BEN, ASX','6.15','#26c6da']];

const W=3341,H=1186,L=4,R=3277,T=5,B=1155;
const PXBAR=5.475, PXPCT=14.28, ZERO=402.5;
const px=x=>(x-L)/(R-L), py=y=>1-(y-T)/(B-T);
const fmt=v=>(v<0?'\u2212':'')+Math.abs(v).toFixed(2)+'%';
const bars=a=>a.filter((_,i)=>i%2===0), vals=a=>a.filter((_,i)=>i%2===1);
const line=(name,pts,color,width)=>({type:'scatter',mode:'lines',name,x:bars(pts),y:vals(pts),hoverinfo:'skip',line:{color,width,shape:'linear'}});
const FONT='"Liberation Sans",Arial,sans-serif';

const traces=[
 line('CBA',cbaPoints,'#4f82dd',1.3),
 line('BEN',benPoints,'#26c6da',2),
 line('NAB',nabPoints,'#ffd000',2),
 line('BOQ',boqPoints,'#ff7000',2),
 line('ANZ',anzPoints,'#ff8c0a',2),
 line('WBC',wbcPoints,'#ff3d00',2),
 {type:'scatter',mode:'markers+text',x:eventBars,y:eventBars.map(()=>eventLevel),text:eventLabels,textposition:'middle center',
  textfont:{family:FONT,size:11,color:['#f7525f','#2196f3','#f7525f','#2196f3']},hoverinfo:'skip',
  marker:{size:25,color:'#ffffff',line:{width:1,color:['#f7525f','#2196f3','#f7525f','#2196f3']}}}
];

function txt(x,y,text,size,color,extra){return Object.assign({xref:'paper',yref:'paper',x:px(x),y:py(y),text,showarrow:false,xanchor:'left',yanchor:'middle',
  font:{family:FONT,size,color},borderpad:0},extra||{});}
function badge(v,text,bg,color,shift){return {xref:'paper',yref:'y',x:px(R),y:v,yshift:shift||0,text,showarrow:false,xanchor:'left',yanchor:'middle',width:57,height:16,align:'center',valign:'middle',
  bgcolor:bg,borderpad:0,font:{family:FONT,size:12,color}};}

const anns=[
 txt(12,22,'COMMONWEALTH BANK OF AUSTRALIA. \u00b7 240 \u00b7 ASX',14,'#555862'),
 txt(372,23,'64.77&nbsp; +3.62 (+5.92%)',12,'#4a80e0'),
 txt(3229,23,'Delayed',12.5,'#ff9800'),
 {xref:'paper',yref:'paper',x:px(3215),y:py(23),text:'<b>!</b>',showarrow:false,font:{family:FONT,size:11,color:'#ffffff'}},
 badge(lastCBA,fmt(lastCBA),'#3f7bdb','#fff'),
 badge(lastCBA,'01:53:48','#3f7bdb','#fff',-18),
 badge(-35.36,fmt(-35.36),'#ffd000','#333'),
 badge(-39.02,fmt(-39.02),'#26c6da','#333'),
 badge(crossY,fmt(crossY),'#4c525e','#fff'),
 badge(-41.53,fmt(-41.53),'#ff3d00','#fff',-12),
 badge(-46.67,fmt(-46.67),'#ff6d00','#fff'),
 {xref:'paper',yref:'y',x:px(3267.5),y:crossY,text:'+',showarrow:false,width:17,height:16,bgcolor:'#4c525e',font:{family:FONT,size:15,color:'#fff'},borderpad:0},
 txt(2880,1166.5,"16 Mar '20 &nbsp; 23:00",11,'#fff',{width:98,height:23,align:'center',valign:'middle',bgcolor:'#4c525e'})
];
legendRows.forEach((r,i)=>{const y=46+i*24;anns.push(txt(12,y,r[0],12,'#555862'));anns.push(txt(i===3?75:i===0?77:74,y,r[1],12.5,r[2]));});

const rect=(x0,y0,x1,y1,fill,extra)=>Object.assign({type:'rect',xref:'paper',yref:'paper',x0:px(x0),x1:px(x1),y0:py(y0),y1:py(y1),fillcolor:fill,line:{width:0},layer:'above'},extra||{});
const shapes=[
 {type:'line',xref:'paper',yref:'y',x0:0,x1:1,y0:lastCBA,y1:lastCBA,line:{color:'#3f7bdb',width:1,dash:'dot'},layer:'above'},
 {type:'line',xref:'paper',yref:'y',x0:0,x1:px(3259),y0:crossY,y1:crossY,line:{color:'#8a8d96',width:1,dash:'5px,4px'},layer:'above'},
 {type:'line',xref:'x',yref:'paper',x0:crossBar,x1:crossBar,y0:0,y1:1,line:{color:'#8a8d96',width:1,dash:'5px,4px'},layer:'above'},
 rect(0,0,W,4,'#e0e3eb'), rect(0,0,3,H,'#e0e3eb'), rect(3337,0,W,H,'#e0e3eb'),
 rect(0,1181,W,1183,'#e0e3eb'),
 rect(3218,0,3297,4,'#2196f3'), rect(3299,0,3337,4,'#2196f3'),
 {type:'circle',xref:'paper',yref:'paper',x0:px(3207),x1:px(3223),y0:py(15),y1:py(31),fillcolor:'#ffb27a',line:{width:0},layer:'below'},
 {type:'rect',xref:'paper',yref:'paper',x0:px(12),x1:px(41),y0:py(155),y1:py(176),fillcolor:'#fff',line:{width:1,color:'#d0d3db'},layer:'above'},
 {type:'path',xref:'paper',yref:'paper',path:`M ${px(22)} ${py(168)} L ${px(26.5)} ${py(163.5)} L ${px(31)} ${py(168)}`,line:{color:'#333',width:1.3},layer:'above'}
];

const layout={
 width:W,height:H,paper_bgcolor:'#ffffff',plot_bgcolor:'#ffffff',showlegend:false,
 margin:{l:L,r:W-R,t:T,b:H-B,pad:0},
 font:{family:FONT,size:11,color:'#6a6d78'},
 xaxis:{range:[L/PXBAR,R/PXBAR],tickmode:'array',tickvals:xTickBars,ticktext:xTickLabels,showgrid:true,gridcolor:'#e8e8ec',gridwidth:1,
   zeroline:false,showline:true,linecolor:'#50535e',linewidth:1.5,ticks:'outside',ticklen:4,tickcolor:'#50535e',tickfont:{family:FONT,size:11,color:'#6a6d78'},fixedrange:true},
 yaxis:{side:'right',range:[(ZERO-B)/PXPCT,(ZERO-T)/PXPCT],tickmode:'array',tickvals:yTicks,ticktext:yTicks.map(fmt),showgrid:true,gridcolor:'#e4e4e8',gridwidth:1,
   zeroline:true,zerolinecolor:'#acacb8',zerolinewidth:1.2,showline:true,linecolor:'#50535e',linewidth:1.5,ticks:'outside',ticklen:4,tickcolor:'#50535e',tickfont:{family:FONT,size:11.5,color:'#6a6d78'},fixedrange:true},
 annotations:anns,shapes
};
Plotly.newPlot('c',traces,layout,{displayModeBar:false,staticPlot:true});
</script></body></html>
